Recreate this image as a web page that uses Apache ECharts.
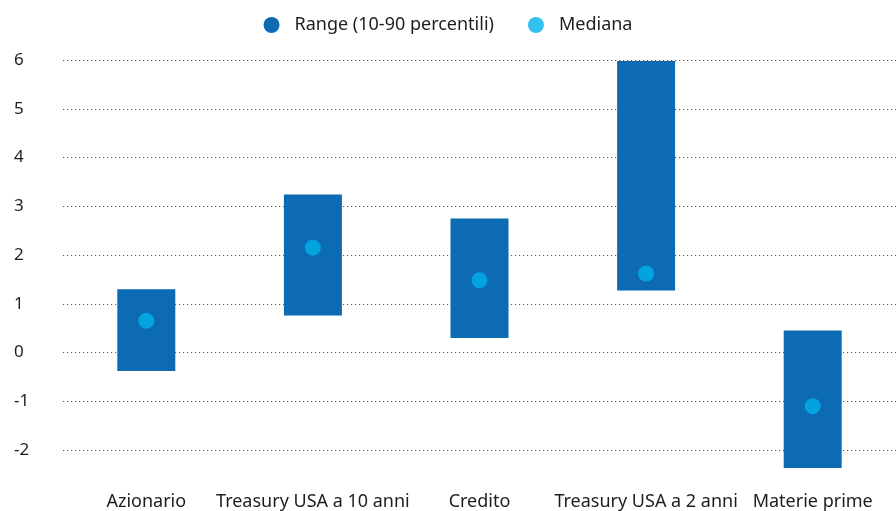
<!DOCTYPE html>
<html>
<head>
<meta charset="utf-8">
<script src="https://cdn.jsdelivr.net/npm/echarts@6/dist/echarts.min.js"></script>
<style>
  html, body { margin: 0; padding: 0; background: #fff; }
  #chart { width: 896px; height: 511px; }
</style>
</head>
<body>
<div id="chart"></div>
<script>
const categories = ['Azionario', 'Treasury USA a 10 anni', 'Credito', 'Treasury USA a 2 anni', 'Materie prime']
const rangeLow = [-0.38, 0.76, 0.3, 1.27, -2.37]
const rangeHigh = [1.3, 3.24, 2.75, 5.98, 0.45]
const median = [0.65, 2.15, 1.48, 1.62, -1.1]

const barColor = '#0d6bb3'
const dotColor = '#00b2ea'
const textColor = '#1e1e1e'

const chart = echarts.init(document.getElementById('chart'))

const option = {
  animation: false,
  legend: {
    top: 11,
    left: 'center',
    icon: 'circle',
    itemWidth: 16,
    itemHeight: 16,
    itemGap: 34,
    data: ['Range (10-90 percentili)', 'Mediana'],
    textStyle: {
      color: textColor,
      fontSize: 18,
      fontFamily: 'Noto Sans',
      padding: [0, 0, 0, 10]
    }
  },
  grid: {
    left: 63,
    right: 0,
    top: 60,
    bottom: 56
  },
  xAxis: {
    type: 'category',
    data: categories,
    axisLine: { show: false },
    axisTick: { show: false },
    axisLabel: {
      color: textColor,
      fontSize: 18,
      fontFamily: 'Noto Sans',
      margin: 43,
      interval: 0
    }
  },
  yAxis: {
    type: 'value',
    min: -2,
    max: 6,
    interval: 1,
    axisLine: { show: false },
    axisTick: { show: false },
    axisLabel: {
      color: textColor,
      fontSize: 17,
      fontFamily: 'Noto Sans',
      align: 'left',
      margin: 49
    },
    splitLine: {
      lineStyle: {
        color: '#555',
        width: 1.2,
        type: [1.2, 2.8]
      }
    }
  },
  series: [
    {
      name: 'base',
      type: 'bar',
      stack: 'range',
      stackStrategy: 'all',
      barWidth: 58,
      clip: false,
      itemStyle: { color: 'transparent' },
      emphasis: { disabled: true },
      data: rangeLow
    },
    {
      name: 'Range (10-90 percentili)',
      type: 'bar',
      stack: 'range',
      stackStrategy: 'all',
      barWidth: 58,
      clip: false,
      itemStyle: { color: barColor },
      data: rangeHigh.map((h, i) => +(h - rangeLow[i]).toFixed(2))
    },
    {
      name: 'Mediana',
      type: 'scatter',
      symbol: 'circle',
      symbolSize: 16,
      itemStyle: { color: dotColor },
      z: 5,
      data: median
    }
  ]
}

chart.setOption(option)
</script>
</body>
</html>
